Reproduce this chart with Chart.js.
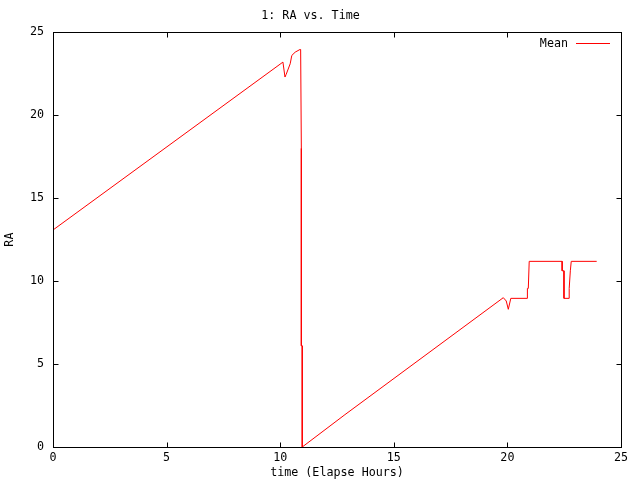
<!DOCTYPE html>
<html>
<head>
<meta charset="utf-8">
<script src="https://cdn.jsdelivr.net/npm/chart.js@4.4.0/dist/chart.umd.min.js"></script>
<style>
  html, body { margin: 0; padding: 0; background: #fff; }
  #wrap { width: 640px; height: 480px; }
</style>
</head>
<body>
<div id="wrap"><canvas id="graficoRA"></canvas></div>
<script>
// datos
const horas = [0, 10.12, 10.21, 10.26, 10.44, 10.51, 10.66, 10.87, 10.90, 10.93, 10.93, 10.97, 10.97,
  12.85, 19.82, 19.95, 20.04, 20.15, 20.88, 20.88, 20.92, 20.96, 22.41, 22.41, 22.49, 22.49,
  22.72, 22.72, 22.77, 22.81, 23.93];
const raMedia = [13.08, 23.2, 22.3, 22.45, 23.1, 23.6, 23.8, 23.96, 23.96, 18.0, 6.1, 6.1, 0,
  1.95, 9.0, 8.8, 8.3, 8.96, 8.96, 9.56, 9.56, 11.19, 11.19, 10.62, 10.62, 8.96,
  8.96, 9.56, 10.62, 11.19, 11.19];
const serieNombre = "Mean";
const xTicks = [0, 5, 10, 15, 20, 25];
const yTicks = [0, 5, 10, 15, 20, 25];

const fuente = { family: "'DejaVu Sans Mono', monospace", size: 11.7, weight: "normal" };

// marco con marcas hacia adentro, estilo gnuplot
const marco = {
  id: "marco",
  afterDraw(chart) {
    const ctx = chart.ctx, a = chart.chartArea;
    const sx = chart.scales.x, sy = chart.scales.y;
    const l = Math.round(a.left) + 0.5, r = Math.round(a.right) + 0.5;
    const t = Math.round(a.top) + 0.5, b = Math.round(a.bottom) + 0.5;
    ctx.save();
    ctx.strokeStyle = "#000";
    ctx.lineWidth = 1;
    ctx.strokeRect(l, t, r - l, b - t);
    ctx.beginPath();
    xTicks.forEach(v => {
      const px = Math.round(sx.getPixelForValue(v)) + 0.5;
      ctx.moveTo(px, b); ctx.lineTo(px, b - 5);
      ctx.moveTo(px, t); ctx.lineTo(px, t + 5);
    });
    yTicks.forEach(v => {
      const py = Math.round(sy.getPixelForValue(v)) + 0.5;
      ctx.moveTo(l, py); ctx.lineTo(l + 5, py);
      ctx.moveTo(r, py); ctx.lineTo(r - 5, py);
    });
    ctx.stroke();

    // leyenda dentro del area
    const ds = chart.data.datasets[0];
    const ly = Math.round(a.top + 11) + 0.5;
    ctx.font = fuente.size + "px " + fuente.family;
    ctx.fillStyle = "#000";
    ctx.textAlign = "right";
    ctx.textBaseline = "middle";
    ctx.fillText(ds.label, a.right - 53, ly);
    ctx.strokeStyle = ds.borderColor;
    ctx.beginPath();
    ctx.moveTo(a.right - 45, ly); ctx.lineTo(a.right - 11, ly);
    ctx.stroke();
    ctx.restore();
  }
};

let miCanvas = document.getElementById("graficoRA").getContext("2d");

var chart = new Chart(miCanvas, {
  type: "scatter",
  data: {
    datasets: [
      {
        label: serieNombre,
        data: horas.map((h, i) => ({ x: h, y: raMedia[i] })),
        showLine: true,
        borderColor: "rgb(255,0,0)",
        backgroundColor: "rgb(255,0,0)",
        borderWidth: 1,
        pointRadius: 0,
        tension: 0
      }
    ]
  },
  options: {
    responsive: true,
    maintainAspectRatio: false,
    devicePixelRatio: 1,
    animation: false,
    layout: { padding: { left: 0, right: 19, top: 0, bottom: 0 } },
    plugins: {
      legend: { display: false },
      tooltip: { enabled: false },
      title: {
        display: true,
        text: "1: RA vs. Time",
        color: "#000",
        font: fuente,
        padding: { top: 9, bottom: 9.2 }
      }
    },
    scales: {
      x: {
        type: "linear",
        min: 0, max: 25,
        grid: { display: false, drawTicks: false, tickLength: 0 },
        border: { display: false },
        ticks: { stepSize: 5, color: "#000", font: fuente, padding: 4, maxRotation: 0 },
        title: { display: true, text: "time (Elapse Hours)", color: "#000", font: fuente, padding: 0 },
        afterFit(s) { s.height = 33; }
      },
      y: {
        min: 0, max: 25,
        grid: { display: false, drawTicks: false, tickLength: 0 },
        border: { display: false },
        ticks: { stepSize: 5, color: "#000", font: fuente, padding: 9 },
        title: { display: true, text: "RA", color: "#000", font: fuente, padding: 3 },
        afterFit(s) { s.width = 53; }
      }
    }
  },
  plugins: [marco]
});
</script>
</body>
</html>
